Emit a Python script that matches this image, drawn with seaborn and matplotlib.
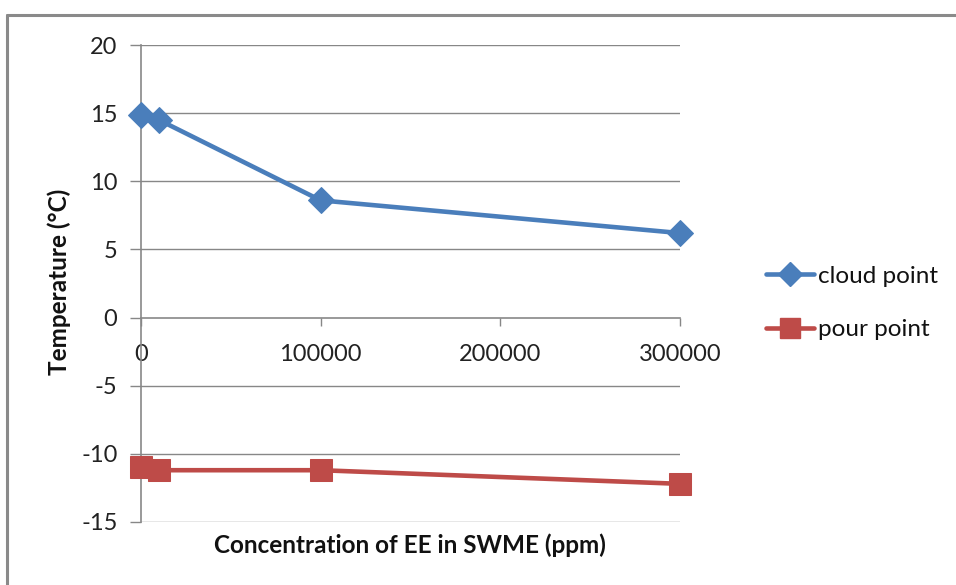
import matplotlib
matplotlib.use("Agg")
import matplotlib.pyplot as plt
from matplotlib.lines import Line2D
import seaborn as sns
import pandas as pd

# Concentration of EE in SWME (ppm) and measured temperatures (°C)
concentration = [0, 10000, 100000, 300000]
cloud_point = [14.85, 14.5, 8.6, 6.2]
pour_point = [-10.95, -11.2, -11.2, -12.2]

x_ticks = [0, 100000, 200000, 300000]
y_ticks = [-15, -10, -5, 0, 5, 10, 15, 20]

series_names = ["cloud point", "pour point"]
series_colors = ["#4A7EBB", "#BE4B48"]
series_markers = ["D", "s"]

df = pd.DataFrame({
    "conc": concentration * 2,
    "temp": cloud_point + pour_point,
    "series": [series_names[0]] * len(concentration) + [series_names[1]] * len(concentration),
})

sns.set_theme(style="white")
plt.rcParams["font.family"] = ["Lato", "DejaVu Sans"]

W, H = 956, 585
fig = plt.figure(figsize=(W / 100, H / 100), dpi=100)
ax = fig.add_axes([141 / W, 1 - 522 / H, (680 - 141) / W, (522 - 45) / H])

grid_color = "#878787"
for yt in y_ticks:
    if yt != 0:
        ax.axhline(yt, color=grid_color, lw=1.0, zorder=0)

marker_sizes = {"D": 13, "s": 15.5}
for name, color, mk in zip(series_names, series_colors, series_markers):
    sub = df[df["series"] == name]
    sns.lineplot(data=sub, x="conc", y="temp", ax=ax, color=color, lw=3.3,
                 marker=mk, markersize=marker_sizes[mk], markeredgecolor=color,
                 clip_on=False, zorder=3, legend=False)

ax.set_xlim(0, 300000)
ax.set_ylim(-15, 20)
ax.set_xticks(x_ticks)
ax.set_xticklabels([str(v) for v in x_ticks])
ax.set_yticks(y_ticks)
ax.set_yticklabels([str(v) for v in y_ticks])

for s in ["top", "right"]:
    ax.spines[s].set_visible(False)
ax.spines["bottom"].set_position(("data", 0))
ax.spines["bottom"].set_color(grid_color)
ax.spines["left"].set_color(grid_color)
ax.spines["bottom"].set_linewidth(1.2)
ax.spines["left"].set_linewidth(1.2)
ax.spines["bottom"].set_zorder(1)

ax.tick_params(axis="x", direction="out", length=6, width=1.0, color=grid_color,
               pad=13, labelsize=17, labelcolor="#222222", bottom=True)
ax.tick_params(axis="y", direction="out", length=8, width=1.0, color=grid_color,
               pad=9, labelsize=17, labelcolor="#222222", left=True)

ax.set_xlabel("")
ax.set_ylabel("")
fig.text(410 / W, 1 - 545 / H, "Concentration of EE in SWME (ppm)", ha="center",
         va="center", fontsize=17.5, fontweight="bold", color="#111111")
fig.text(59 / W, 1 - 282 / H, "Temperature (°C)", ha="center", va="center",
         rotation=90, fontsize=17.5, fontweight="bold", color="#111111")

handles = [Line2D([], [], color=c, lw=3.3, marker=m, markersize=marker_sizes[m] - 1,
                  markeredgecolor=c)
           for c, m in zip(series_colors, series_markers)]
fig.legend(handles, series_names, loc="center left",
           bbox_to_anchor=(756 / W, 1 - 303 / H), frameon=False,
           fontsize=17.5, handlelength=2.0, handletextpad=0.15, labelspacing=1.35,
           borderaxespad=0, labelcolor="#111111")

# Chart area border (top and left edges)
border = "#8a8a8a"
fig.add_artist(Line2D([7 / W, 1], [1 - 15 / H, 1 - 15 / H], color=border, lw=2.2,
                      transform=fig.transFigure))
fig.add_artist(Line2D([7 / W, 7 / W], [1 - 15 / H, 0], color=border, lw=2.2,
                      transform=fig.transFigure))

fig.savefig("out.png", dpi=100, facecolor="white")
